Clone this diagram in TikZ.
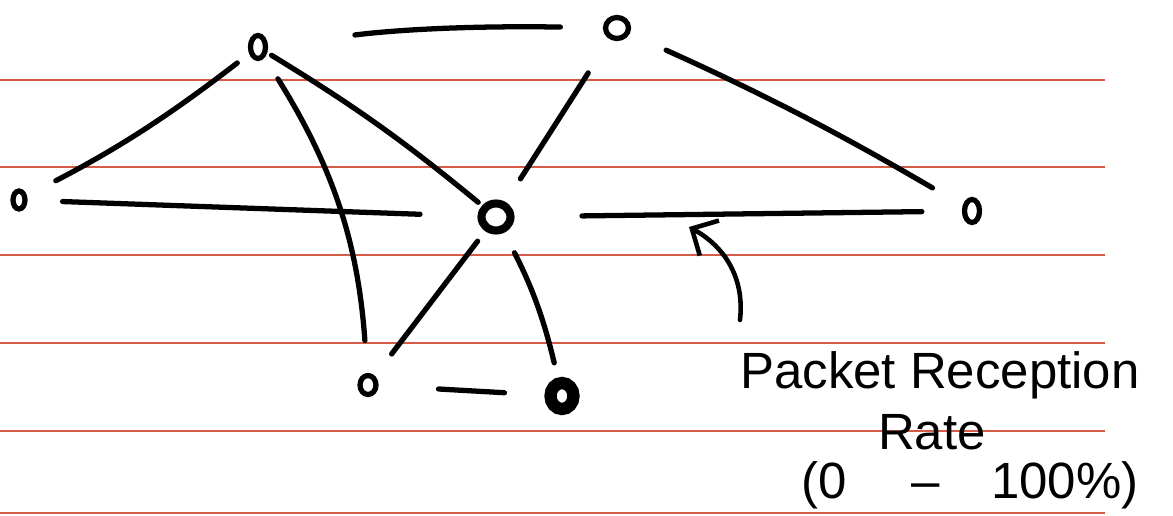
\documentclass[tikz,border=0pt]{standalone}
\usepackage{fontspec}
\setmainfont{Liberation Sans}
\usetikzlibrary{shapes.geometric,arrows.meta}
\definecolor{ruled}{RGB}{212,92,72}

\begin{document}
\begin{tikzpicture}[x=0.02cm,y=-0.02cm,
        rule/.style={draw=ruled,line width=0.8pt},
        mote/.style={ellipse,draw,line width=3pt,inner sep=0pt,minimum width=0.3cm,minimum height=0.46cm},
        bigmote/.style={mote,line width=4.6pt,minimum width=0.58cm,minimum height=0.54cm},
        link/.style={line width=3pt,line cap=round},
        note/.style={font=\fontsize{29}{34}\selectfont,inner sep=0pt}]
    \useasboundingbox (0,0) rectangle (1173,516);
    % lined paper
    \foreach \y in {80,167,255,343,431,513}
        \draw[rule] (0,\y) -- (1105,\y);
    % motes
    \node[mote] (A) at (258,47) {};
    \node[mote,minimum width=0.46cm,minimum height=0.42cm] (B) at (617,28) {};
    \node[mote,minimum width=0.24cm,minimum height=0.36cm] (C) at (19,200) {};
    \node[bigmote] (D) at (496,217) {};
    \node[mote] (E) at (972,211) {};
    \node[mote,minimum width=0.32cm,minimum height=0.38cm] (F) at (368,385) {};
    \node[bigmote,line width=7pt,minimum width=0.46cm,minimum height=0.52cm] (G) at (562,396) {};
    % links
    \draw[link,shorten <=1.75cm,shorten >=0.85cm] (A) to[bend left=4] (B);
    \draw[link,shorten <=0.3cm,shorten >=0.65cm] (A) to[bend left=5] (C);
    \draw[link,shorten <=0.7cm,shorten >=1.15cm] (C) -- (D);
    \draw[link,shorten <=0.1cm,shorten >=0.1cm] (A) to[bend left=4] (D);
    \draw[link,shorten <=0.5cm,shorten >=0.65cm] (A) to[bend left=14] (F);
    \draw[link,shorten <=0.8cm,shorten >=0.55cm] (B) -- (D);
    \draw[link,shorten <=0.8cm,shorten >=0.7cm] (B) to[bend left=3] (E);
    \draw[link,shorten <=1.35cm,shorten >=0.8cm] (D) -- (E);
    \draw[link,shorten <=0.25cm,shorten >=0.55cm] (D) -- (F);
    \draw[link,shorten <=0.45cm,shorten >=0.3cm] (D) to[bend left=7] (G);
    \draw[link,shorten <=1.2cm,shorten >=0.8cm] (F) -- (G);
    % label
    \node[note] (prr) at (940,375) {Packet Reception};
    \node[note] (rate) at (932,432) {Rate};
    \node[note] (range) at (970,485) {(0 \quad--\quad 100\%)};
    \coordinate (tail) at (740,320);
    \coordinate (head) at (689,227);
    \draw[link,line width=2.6pt,-{Straight Barb[length=4mm,width=8mm]}] (tail) .. controls (745,275) and (722,245) .. (head);
\end{tikzpicture}
\end{document}
